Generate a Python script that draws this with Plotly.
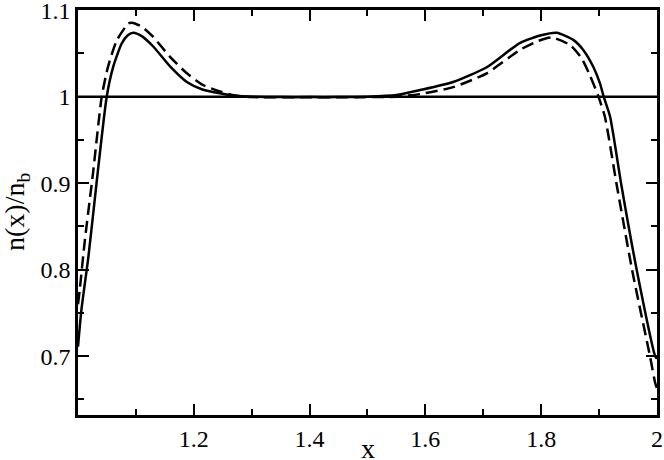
import plotly.graph_objects as go

# solid curve
x_solid = [1.000, 1.006, 1.018, 1.032, 1.0496, 1.061, 1.0755, 1.086, 1.0955, 1.110, 1.130, 1.159,
           1.188, 1.216, 1.245, 1.274, 1.300, 1.350, 1.400, 1.450, 1.500, 1.550, 1.591, 1.648,
           1.706, 1.763, 1.800, 1.827, 1.856, 1.873, 1.890, 1.9016, 1.908, 1.919, 1.938, 1.965, 1.997, 2.000]
y_solid = [0.711, 0.754, 0.815, 0.900, 1.000, 1.035, 1.0615, 1.071, 1.074, 1.070, 1.058, 1.035,
           1.017, 1.008, 1.004, 1.001, 1.000, 0.9995, 0.9995, 0.9995, 1.000, 1.002, 1.0077, 1.017,
           1.034, 1.062, 1.071, 1.0738, 1.0654, 1.0538, 1.0346, 1.0154, 1.000, 0.977, 0.900, 0.800, 0.700, 0.697]

# dashed curve
x_dash = [1.000, 1.003, 1.012, 1.026, 1.041, 1.052, 1.067, 1.087, 1.093, 1.110, 1.130, 1.159,
          1.188, 1.216, 1.245, 1.274, 1.300, 1.350, 1.400, 1.450, 1.500, 1.550, 1.591, 1.648,
          1.706, 1.763, 1.795, 1.818, 1.850, 1.870, 1.884, 1.899, 1.910, 1.930, 1.957, 1.988, 1.997, 2.000]
y_dash = [0.760, 0.777, 0.835, 0.912, 1.000, 1.035, 1.065, 1.0847, 1.0855, 1.081, 1.069, 1.046,
          1.027, 1.0135, 1.006, 1.001, 0.9996, 0.9993, 0.9993, 0.9993, 0.9995, 1.000, 1.003, 1.011,
          1.027, 1.054, 1.0645, 1.0685, 1.0596, 1.0442, 1.025, 1.000, 0.977, 0.900, 0.800, 0.700, 0.669, 0.663]

x_ticks = [1.2, 1.4, 1.6, 1.8, 2.0]
x_tick_labels = ["1.2", "1.4", "1.6", "1.8", "2"]
y_ticks = [0.7, 0.8, 0.9, 1.0, 1.1]
y_tick_labels = ["0.7", "0.8", "0.9", "1", "1.1"]

font_family = "Liberation Serif, Times New Roman, serif"

fig = go.Figure()
fig.add_hline(y=1.0, line=dict(color="black", width=2.5))
fig.add_trace(go.Scatter(x=x_solid, y=y_solid, mode="lines",
                         line=dict(color="black", width=2.5, shape="spline", smoothing=0.6),
                         showlegend=False))
fig.add_trace(go.Scatter(x=x_dash, y=y_dash, mode="lines",
                         line=dict(color="black", width=2.5, dash="12px,6px", shape="spline", smoothing=0.6),
                         showlegend=False))

axis_common = dict(
    showgrid=False, zeroline=False, automargin=False,
    showline=True, linecolor="black", linewidth=2.5, mirror="allticks",
    ticks="inside", ticklen=11, tickwidth=1.5, tickcolor="black",
    ticklabeloverflow="allow",
    tickfont=dict(family=font_family, size=24, color="black"),
)

fig.update_xaxes(
    range=[1.0, 2.0001], tickvals=x_ticks, ticktext=x_tick_labels,
    minor=dict(dtick=0.1, ticks="inside", ticklen=6, tickwidth=1.5, tickcolor="black", showgrid=False),
    **axis_common,
)
fig.update_yaxes(
    range=[0.632, 1.1002], tickvals=y_ticks, ticktext=y_tick_labels,
    minor=dict(tick0=0.65, dtick=0.1, ticks="inside", ticklen=6, tickwidth=1.5, tickcolor="black", showgrid=False),
    **axis_common,
)

fig.update_layout(
    width=664, height=460,
    margin=dict(l=78, r=7, t=10, b=45, pad=0),
    plot_bgcolor="white", paper_bgcolor="white",
    annotations=[
        dict(text="x", xref="paper", yref="paper", x=0.5, y=0, yshift=-33,
             xanchor="center", yanchor="middle", showarrow=False,
             font=dict(family=font_family, size=28, color="black")),
        dict(text="n(x)/n<sub>b</sub>", xref="paper", yref="paper", x=0, y=0.5, xshift=-42,
             xanchor="right", yanchor="middle", textangle=-90, showarrow=False,
             font=dict(family=font_family, size=28, color="black")),
    ],
)

fig.write_html("out.html", config={"displayModeBar": False},
               post_script="document.body.style.margin='0';document.body.style.padding='0';")
